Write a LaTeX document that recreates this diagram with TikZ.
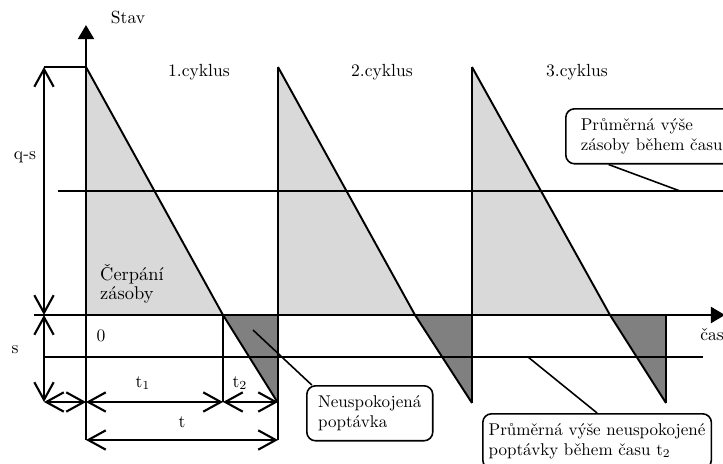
\documentclass[tikz,border=0pt]{standalone}
\usepackage{tikz}
\usetikzlibrary{arrows.meta}

\definecolor{stockgray}{HTML}{D9D9D9}
\definecolor{shortgray}{HTML}{808080}

\begin{document}
\begin{tikzpicture}[x=0.02cm,y=-0.02cm]

\tikzset{axis/.style = {line width=1.5pt, -{Triangle[length=8pt,width=9pt]}}}
\tikzset{dim/.style = {line width=1.2pt, {Straight Barb[length=10pt,width=11pt]}-{Straight Barb[length=10pt,width=11pt]}}}
\tikzset{saw/.style = {line width=1.1pt}}
\tikzset{level/.style = {line width=0.9pt}}
\tikzset{callout/.style = {draw, line width=0.9pt, rounded corners=5pt, align=left, font=\fontsize{9.7}{11}\selectfont, anchor=north west, minimum height=1.1cm}}

\useasboundingbox (0,0) rectangle (723,463);

% points
\coordinate (top) at (44,67);
\coordinate (zero) at (44,315);
\coordinate (bot) at (44,402);
\coordinate (o) at (86,402);
\coordinate (c1) at (223,402);
\coordinate (e1) at (278,402);
\coordinate (ot) at (86,440);
\coordinate (et) at (278,440);

% cycles
\foreach \p/\c/\b in {86/223/278, 278/415/472, 472/610/666} {
  \fill[stockgray] (\p,67) -- (\c,315) -- (\p,315) -- cycle;
  \fill[shortgray] (\c,315) -- (\b,315) -- (\b,403) -- cycle;
  \draw[saw] (\p,67) -- (\c,315) -- (\b,403);
}
\draw[saw] (278,440) -- (278,67);
\draw[saw] (472,403) -- (472,67);
\draw[saw] (666,403) -- (666,315);

% levels
\draw[level] (58,191) -- (723,191);
\draw[level] (44,357) -- (703,357);
\draw[saw] (top) -- (86,67);
\draw[saw] (223,315) -- (c1);

% axes
\draw[axis] (ot) -- (86,25);
\draw[axis] (34,315) -- (725,315);

% dimensions
\draw[dim] (top) -- (zero);
\draw[dim] (zero) -- (bot);
\draw[dim] (bot) -- (o);
\draw[dim] (o) -- (c1);
\draw[dim] (c1) -- (e1);
\draw[dim] (ot) -- (et);

% labels
\node (stav) at (128,17) {Stav};
\node (cas) at (712,335) {čas};
\node (qs) at (25,157) {q-s};
\node (s) at (15,350) {s};
\node (nula) at (101,336) {0};
\node (tone) at (143,383) {t\textsubscript{1}};
\node (ttwo) at (240,383) {t\textsubscript{2}};
\node (t) at (182,422) {t};
\node[anchor=west, align=left, font=\fontsize{10.5}{10.5}\selectfont] (cerpani) at (94,284) {Čerpání\\zásoby};
\node (cyklus1) at (199,72) {1.cyklus};
\node (cyklus2) at (382,72) {2.cyklus};
\node (cyklus3) at (577,72) {3.cyklus};

% callouts
\node[callout, inner xsep=0.3cm, text width=3cm] (avgbox) at (565,108) {Průměrná výše\\zásoby během času};
\node[callout, minimum width=2.52cm] (needbox) at (306,385) {Neuspokojená\\poptávka};
\node[callout, minimum width=4.42cm] (lowbox) at (482,413) {Průměrná výše neuspokojené\\poptávky během času t\textsubscript{2}};

\coordinate (avgpt) at (680,191);
\coordinate (needpt) at (253,330);
\coordinate (lowpt) at (528,357);
\draw[level] (avgbox.211) -- (avgpt);
\draw[level] (needbox.154) -- (needpt);
\draw[level] (lowbox.north) -- (lowpt);

\end{tikzpicture}
\end{document}
